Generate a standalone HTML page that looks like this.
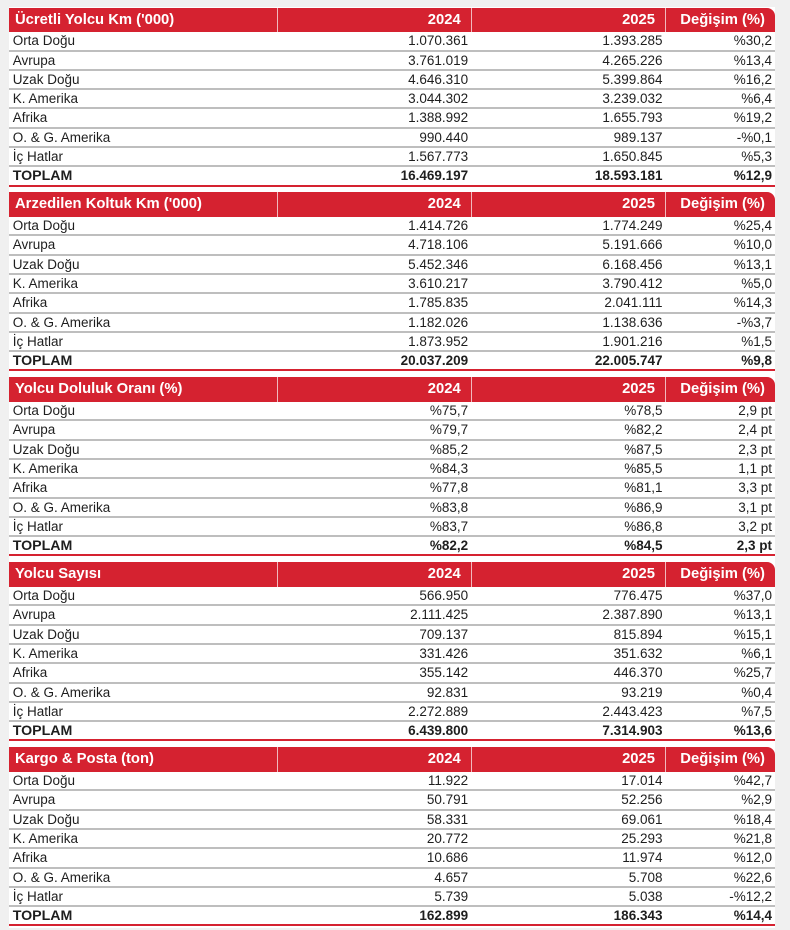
<!DOCTYPE html>
<html><head><meta charset="utf-8">
<style>
html,body{margin:0;padding:0;}
body{width:790px;height:930px;background:#f0f0f0;position:relative;overflow:hidden;font-family:"Liberation Sans",Arial,sans-serif;color:#1e1e1e;}
.bg{position:absolute;left:9px;top:7px;width:766px;height:921px;background:#fff;}
.sec{position:absolute;left:9px;width:766px;}
.hd{height:24.8px;display:flex;}
.hd span{display:block;background:#d52230;color:#fff;font-weight:bold;font-size:14.8px;line-height:25.6px;height:24.8px;box-sizing:border-box;white-space:nowrap;overflow:hidden;}
.c1{width:268.5px;}
.c2{width:194.2px;}
.c3{width:194.3px;}
.c4{width:109px;}
.hd .c1{padding-left:6px;border-right:1.5px solid #f1b9be;}
.hd .c2{text-align:right;padding-right:10px;border-right:1.5px solid #f1b9be;}
.hd .c3{text-align:right;padding-right:10px;border-right:1.5px solid #f1b9be;}
.hd .c4{text-align:right;padding-right:10px;border-top-right-radius:8px;}
.r{height:19.3px;display:flex;box-sizing:border-box;border-bottom:2px solid #bebebe;font-size:13.5px;line-height:18px;}
.r span{display:block;white-space:nowrap;box-sizing:border-box;}
.r .c1{padding-left:3.7px;}
.r .c2,.r .c3{text-align:right;padding-right:3.5px;}
.r .c4{text-align:right;padding-right:3px;}
.r.t{border-bottom:2px solid #d52230;font-weight:bold;}
.r.t .c1{font-size:14.2px;}
</style></head><body>
<div class="bg"></div>

<div class="sec" style="top:7.5px">
<div class="hd"><span class="c1">Ücretli Yolcu Km ('000)</span><span class="c2">2024</span><span class="c3">2025</span><span class="c4">Değişim (%)</span></div>
<div class="r"><span class="c1">Orta Doğu</span><span class="c2">1.070.361</span><span class="c3">1.393.285</span><span class="c4">%30,2</span></div>
<div class="r"><span class="c1">Avrupa</span><span class="c2">3.761.019</span><span class="c3">4.265.226</span><span class="c4">%13,4</span></div>
<div class="r"><span class="c1">Uzak Doğu</span><span class="c2">4.646.310</span><span class="c3">5.399.864</span><span class="c4">%16,2</span></div>
<div class="r"><span class="c1">K. Amerika</span><span class="c2">3.044.302</span><span class="c3">3.239.032</span><span class="c4">%6,4</span></div>
<div class="r"><span class="c1">Afrika</span><span class="c2">1.388.992</span><span class="c3">1.655.793</span><span class="c4">%19,2</span></div>
<div class="r"><span class="c1">O. &amp; G. Amerika</span><span class="c2">990.440</span><span class="c3">989.137</span><span class="c4">-%0,1</span></div>
<div class="r"><span class="c1">İç Hatlar</span><span class="c2">1.567.773</span><span class="c3">1.650.845</span><span class="c4">%5,3</span></div>
<div class="r t"><span class="c1">TOPLAM</span><span class="c2">16.469.197</span><span class="c3">18.593.181</span><span class="c4">%12,9</span></div>
</div>

<div class="sec" style="top:192.3px">
<div class="hd"><span class="c1">Arzedilen Koltuk Km ('000)</span><span class="c2">2024</span><span class="c3">2025</span><span class="c4">Değişim (%)</span></div>
<div class="r"><span class="c1">Orta Doğu</span><span class="c2">1.414.726</span><span class="c3">1.774.249</span><span class="c4">%25,4</span></div>
<div class="r"><span class="c1">Avrupa</span><span class="c2">4.718.106</span><span class="c3">5.191.666</span><span class="c4">%10,0</span></div>
<div class="r"><span class="c1">Uzak Doğu</span><span class="c2">5.452.346</span><span class="c3">6.168.456</span><span class="c4">%13,1</span></div>
<div class="r"><span class="c1">K. Amerika</span><span class="c2">3.610.217</span><span class="c3">3.790.412</span><span class="c4">%5,0</span></div>
<div class="r"><span class="c1">Afrika</span><span class="c2">1.785.835</span><span class="c3">2.041.111</span><span class="c4">%14,3</span></div>
<div class="r"><span class="c1">O. &amp; G. Amerika</span><span class="c2">1.182.026</span><span class="c3">1.138.636</span><span class="c4">-%3,7</span></div>
<div class="r"><span class="c1">İç Hatlar</span><span class="c2">1.873.952</span><span class="c3">1.901.216</span><span class="c4">%1,5</span></div>
<div class="r t"><span class="c1">TOPLAM</span><span class="c2">20.037.209</span><span class="c3">22.005.747</span><span class="c4">%9,8</span></div>
</div>

<div class="sec" style="top:377.3px">
<div class="hd"><span class="c1">Yolcu Doluluk Oranı (%)</span><span class="c2">2024</span><span class="c3">2025</span><span class="c4">Değişim (%)</span></div>
<div class="r"><span class="c1">Orta Doğu</span><span class="c2">%75,7</span><span class="c3">%78,5</span><span class="c4">2,9 pt</span></div>
<div class="r"><span class="c1">Avrupa</span><span class="c2">%79,7</span><span class="c3">%82,2</span><span class="c4">2,4 pt</span></div>
<div class="r"><span class="c1">Uzak Doğu</span><span class="c2">%85,2</span><span class="c3">%87,5</span><span class="c4">2,3 pt</span></div>
<div class="r"><span class="c1">K. Amerika</span><span class="c2">%84,3</span><span class="c3">%85,5</span><span class="c4">1,1 pt</span></div>
<div class="r"><span class="c1">Afrika</span><span class="c2">%77,8</span><span class="c3">%81,1</span><span class="c4">3,3 pt</span></div>
<div class="r"><span class="c1">O. &amp; G. Amerika</span><span class="c2">%83,8</span><span class="c3">%86,9</span><span class="c4">3,1 pt</span></div>
<div class="r"><span class="c1">İç Hatlar</span><span class="c2">%83,7</span><span class="c3">%86,8</span><span class="c4">3,2 pt</span></div>
<div class="r t"><span class="c1">TOPLAM</span><span class="c2">%82,2</span><span class="c3">%84,5</span><span class="c4">2,3 pt</span></div>
</div>

<div class="sec" style="top:562.3px">
<div class="hd"><span class="c1">Yolcu Sayısı</span><span class="c2">2024</span><span class="c3">2025</span><span class="c4">Değişim (%)</span></div>
<div class="r"><span class="c1">Orta Doğu</span><span class="c2">566.950</span><span class="c3">776.475</span><span class="c4">%37,0</span></div>
<div class="r"><span class="c1">Avrupa</span><span class="c2">2.111.425</span><span class="c3">2.387.890</span><span class="c4">%13,1</span></div>
<div class="r"><span class="c1">Uzak Doğu</span><span class="c2">709.137</span><span class="c3">815.894</span><span class="c4">%15,1</span></div>
<div class="r"><span class="c1">K. Amerika</span><span class="c2">331.426</span><span class="c3">351.632</span><span class="c4">%6,1</span></div>
<div class="r"><span class="c1">Afrika</span><span class="c2">355.142</span><span class="c3">446.370</span><span class="c4">%25,7</span></div>
<div class="r"><span class="c1">O. &amp; G. Amerika</span><span class="c2">92.831</span><span class="c3">93.219</span><span class="c4">%0,4</span></div>
<div class="r"><span class="c1">İç Hatlar</span><span class="c2">2.272.889</span><span class="c3">2.443.423</span><span class="c4">%7,5</span></div>
<div class="r t"><span class="c1">TOPLAM</span><span class="c2">6.439.800</span><span class="c3">7.314.903</span><span class="c4">%13,6</span></div>
</div>

<div class="sec" style="top:747.3px">
<div class="hd"><span class="c1">Kargo &amp; Posta (ton)</span><span class="c2">2024</span><span class="c3">2025</span><span class="c4">Değişim (%)</span></div>
<div class="r"><span class="c1">Orta Doğu</span><span class="c2">11.922</span><span class="c3">17.014</span><span class="c4">%42,7</span></div>
<div class="r"><span class="c1">Avrupa</span><span class="c2">50.791</span><span class="c3">52.256</span><span class="c4">%2,9</span></div>
<div class="r"><span class="c1">Uzak Doğu</span><span class="c2">58.331</span><span class="c3">69.061</span><span class="c4">%18,4</span></div>
<div class="r"><span class="c1">K. Amerika</span><span class="c2">20.772</span><span class="c3">25.293</span><span class="c4">%21,8</span></div>
<div class="r"><span class="c1">Afrika</span><span class="c2">10.686</span><span class="c3">11.974</span><span class="c4">%12,0</span></div>
<div class="r"><span class="c1">O. &amp; G. Amerika</span><span class="c2">4.657</span><span class="c3">5.708</span><span class="c4">%22,6</span></div>
<div class="r"><span class="c1">İç Hatlar</span><span class="c2">5.739</span><span class="c3">5.038</span><span class="c4">-%12,2</span></div>
<div class="r t"><span class="c1">TOPLAM</span><span class="c2">162.899</span><span class="c3">186.343</span><span class="c4">%14,4</span></div>
</div>

</body></html>
